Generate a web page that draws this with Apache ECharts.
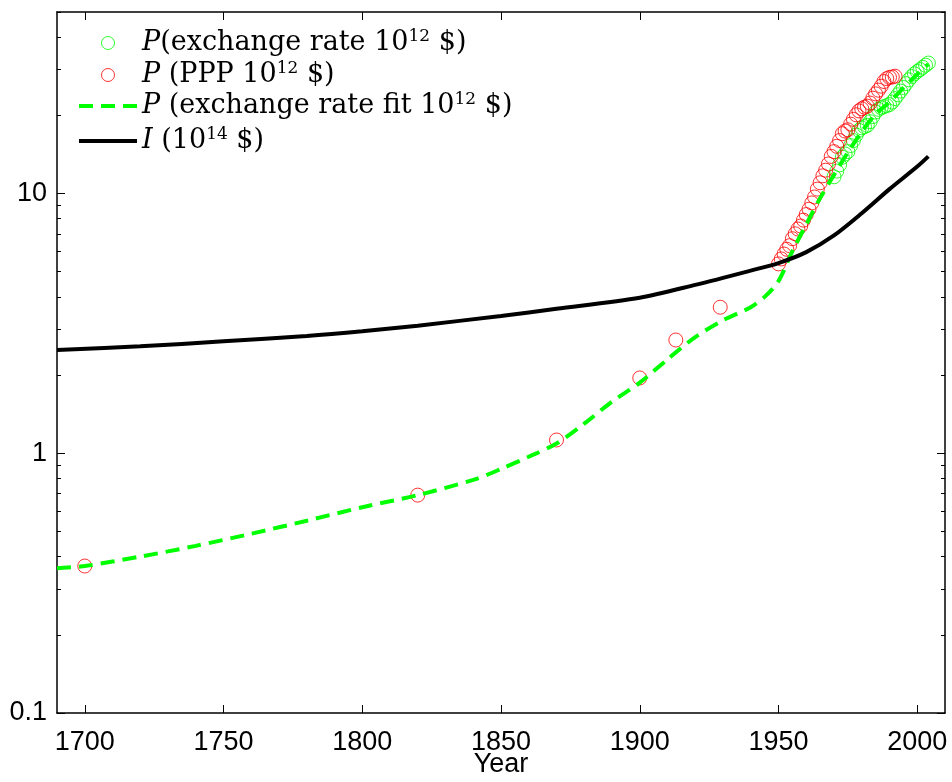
<!DOCTYPE html>
<html><head><meta charset="utf-8">
<script src="https://cdn.jsdelivr.net/npm/echarts@6/dist/echarts.min.js"></script>
<style>html,body{margin:0;padding:0;background:#fff}#c{width:952px;height:782px}</style>
</head><body><div id="c"></div>
<script>
// ---- data ----
const pppYears = [1700,1820,1870,1900,1913,1929,
 1950,1951,1952,1953,1954,1955,1956,1957,1958,1959,1960,1961,1962,1963,1964,1965,1966,1967,1968,1969,
 1970,1971,1972,1973,1974,1975,1976,1977,1978,1979,1980,1981,1982,1983,1984,1985,1986,1987,1988,1989,1990,1991,1992];
const pppValues = [0.368,0.69,1.125,1.95,2.73,3.65,
 5.36,5.6,5.85,6.1,6.3,6.7,7.0,7.3,7.5,7.9,8.3,8.7,9.2,9.7,10.4,11.0,11.7,12.3,13.0,13.9,
 14.5,15.2,16.0,17.0,17.4,17.6,18.5,19.3,20.1,20.8,21.2,21.5,21.7,22.3,23.3,24.2,25.0,25.9,27.0,27.7,28.0,28.1,28.3];
const exYears = [1970,1971,1972,1973,1974,1975,1976,1977,1978,1979,1980,1981,1982,1983,1984,1985,1986,1987,
 1988,1989,1990,1991,1992,1993,1994,1995,1996,1997,1998,1999,2000,2001,2002,2003,2004];
const exValues = [11.6,12.2,12.9,13.8,14.2,14.5,15.3,16.0,16.8,17.5,17.9,18.1,18.3,18.9,19.8,20.6,21.1,21.4,
 21.6,21.8,22.0,22.5,23.2,24.0,24.8,25.6,26.5,27.4,28.2,28.9,29.5,30.0,30.6,31.2,31.8];
const fitYears = [1690,1700,1720,1740,1760,1780,1800,1820,1840,1850,1860,1870,1880,1890,1900,1910,1920,1930,1940,1945,1950,1955,1960,1965,1970,1975,1980,1985,1990,1995,2000,2004];
const fitValues = [0.361,0.368,0.40,0.44,0.49,0.55,0.62,0.69,0.79,0.87,0.97,1.09,1.30,1.58,1.87,2.30,2.80,3.25,3.65,4.0,4.6,6.0,7.6,9.6,11.8,14.4,17.3,20.2,22.5,25.5,28.8,31.5];
const incYears = [1690,1720,1750,1780,1800,1820,1850,1870,1900,1920,1940,1950,1960,1970,1980,1990,2000,2004];
const incValues = [2.50,2.58,2.70,2.83,2.95,3.10,3.38,3.60,3.97,4.45,5.05,5.40,5.95,6.9,8.4,10.4,12.7,13.9];
const xTicks = [1700,1750,1800,1850,1900,1950,2000];
const yMajor = [0.1,1,10];
const yMinor = [0.2,0.3,0.4,0.5,0.6,0.7,0.8,0.9,2,3,4,5,6,7,8,9,20,30,40,50];
const legendNames = ['pex','ppp','fit','inc'];
const legendLabels = {
  pex: '{i|P}(exchange rate 10{s|12} $)',
  ppp: '{i|P} (PPP 10{s|12} $)',
  fit: '{i|P} (exchange rate fit 10{s|12} $)',
  inc: '{i|I} (10{s|14} $)'
};
// ---- chart ----
const zip = (a,b) => a.map((v,i)=>[v,b[i]]);
const numFont = '"Liberation Sans Narrow","Liberation Sans",sans-serif';
const serif = '"DejaVu Serif",serif';
const lineC = {lineStyle:{color:'#000',width:1.5}};
function xAx(pos, labels){
  return {type:'value',min:1690,max:2010,position:pos,
    axisLine:{show:true,onZero:false,...lineC},
    axisTick:{show:true,inside:true,length:8,customValues:xTicks,lineStyle:{color:'#000',width:1}},
    axisLabel:{show:labels,customValues:xTicks,margin:16,fontFamily:numFont,fontSize:27,color:'#000',
      formatter:v=>String(v)},
    splitLine:{show:false},
    name: labels ? 'Year' : '', nameLocation:'middle', nameGap:38, nameMoveOverlap:false,
    nameTextStyle:{fontFamily:numFont,fontSize:27,color:'#000',verticalAlign:'top'}};
}
function yAx(pos, ticks, len, labels, line){
  return {type:'log',logBase:10,min:0.1,max:50,position:pos,
    axisLine:{show:line,onZero:false,...lineC},
    axisTick:{show:true,inside:true,length:len,customValues:ticks,lineStyle:{color:'#000',width:1}},
    axisLabel:{show:labels,customValues:yMajor,margin:10,fontFamily:numFont,fontSize:27,color:'#000',
      formatter:v=>String(v)},
    splitLine:{show:false},minorTick:{show:false}};
}
const legendTops = [23,55,86,121];
const legendLefts = [96,96,72,72];
const legends = legendNames.map((n,i)=>({
  data:[n], left:legendLefts[i], top:legendTops[i], orient:'vertical',
  itemWidth:58, itemHeight:13, selectedMode:false,
  itemStyle: i<2 ? {color:'rgba(0,0,0,0)',borderWidth:1}
                 : {color:'rgba(0,0,0,0)',borderColor:'rgba(0,0,0,0)',borderWidth:0,opacity:0},
  lineStyle: i===2 ? {width:4,type:[14,8]} : {width:4},
  formatter: name => legendLabels[name],
  textStyle:{fontFamily:serif,fontSize:27,color:'#000',lineHeight:30,
    rich:{i:{fontFamily:serif,fontStyle:'italic',fontSize:27,color:'#000',lineHeight:30},
          s:{fontFamily:serif,fontSize:17,color:'#000',verticalAlign:'top',lineHeight:30}}}
}));
const hollow = c => ({color:'rgba(0,0,0,0)',borderColor:c,borderWidth:1});
const option = {
  backgroundColor:'#fff', animation:false,
  grid:{left:57,right:7,top:12,bottom:69,outerBoundsMode:'none',containLabel:false},
  legend: legends,
  xAxis:[xAx('bottom',true), xAx('top',false)],
  yAxis:[yAx('left',yMajor,8,true,true), yAx('left',yMinor,4,false,false),
         yAx('right',yMajor,8,false,true), yAx('right',yMinor,4,false,false)],
  series:[
    {name:'pex',type:'scatter',data:zip(exYears,exValues),symbol:'circle',symbolSize:14,itemStyle:hollow('#00ff00')},
    {name:'ppp',type:'scatter',data:zip(pppYears,pppValues),symbol:'circle',symbolSize:14,itemStyle:hollow('#ff0000')},
    {name:'fit',type:'line',data:zip(fitYears,fitValues),symbol:'none',showSymbol:false,smooth:0.3,
      lineStyle:{color:'#00ff00',width:4,type:[14,8]},itemStyle:{color:'#00ff00'}},
    {name:'inc',type:'line',data:zip(incYears,incValues),symbol:'none',showSymbol:false,smooth:0.3,
      lineStyle:{color:'#000',width:4},itemStyle:{color:'#000'}}
  ]
};
echarts.init(document.getElementById('c')).setOption(option);
</script></body></html>
